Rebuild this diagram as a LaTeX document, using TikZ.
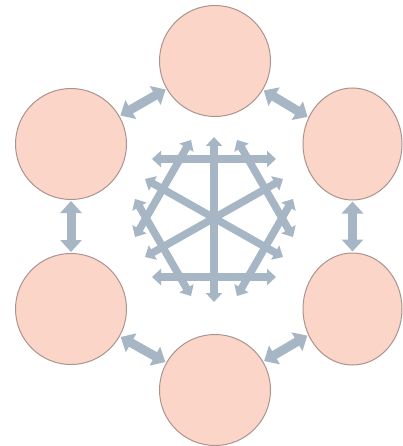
\documentclass[tikz,border=0pt]{standalone}
\usetikzlibrary{arrows.meta,shapes.geometric}
\definecolor{circfill}{HTML}{FBD5C8}
\definecolor{circdraw}{HTML}{AC948E}
\definecolor{arrcol}{HTML}{A6B6C4}
\tikzset{
  bubble/.style={ellipse, fill=circfill, draw=circdraw, line width=1pt, inner sep=0pt, minimum width=111pt, minimum height=111pt},
  rbubble/.style={bubble, minimum width=99pt, minimum height=112pt},
  conn/.style={draw=arrcol, line width=9pt, {Triangle[width=21pt,length=12pt]}-{Triangle[width=21pt,length=12pt]}, shorten <=1pt, shorten >=1pt},
  spoke/.style={draw=arrcol, line width=7.5pt, {Triangle[width=16pt,length=9pt]}-{Triangle[width=16pt,length=9pt]}},
}
\begin{document}
\begin{tikzpicture}[x=1pt,y=-1pt]
\useasboundingbox (0,0) rectangle (403,446);
\fill[white] (0,0) rectangle (403,446);
\node[bubble]  (t)  at (215,61) {};
\node[bubble]  (ul) at (71,144) {};
\node[rbubble] (ur) at (352.5,144) {};
\node[bubble]  (ll) at (71,309) {};
\node[rbubble] (lr) at (352.5,309) {};
\node[bubble]  (b)  at (215,390) {};
\draw[conn] (ul) -- (t);
\draw[conn] (t) -- (ur);
\draw[conn] (ur) -- (lr);
\draw[conn] (lr) -- (b);
\draw[conn] (b) -- (ll);
\draw[conn] (ll) -- (ul);
\coordinate (s) at (214,218);
\begin{scope}[shift={(s)}]
  \coordinate (v0) at (68,0);
  \coordinate (v1) at (34,-59);
  \coordinate (v2) at (-34,-59);
  \coordinate (v3) at (-68,0);
  \coordinate (v4) at (-34,59);
  \coordinate (v5) at (34,59);
  \draw[spoke] (0,-81) -- (0,84);
  \draw[spoke] (-69,-39) -- (69,39);
  \draw[spoke] (-69,39) -- (69,-39);
  \draw[spoke, shorten <=-28pt, shorten >=-28pt] (v2) -- (v1);
  \draw[spoke, shorten <=-28pt, shorten >=-28pt] (v4) -- (v5);
  \draw[spoke, shorten <=-22pt, shorten >=-22pt] (v3) -- (v2);
  \draw[spoke, shorten <=-22pt, shorten >=-22pt] (v3) -- (v4);
  \draw[spoke, shorten <=-22pt, shorten >=-22pt] (v0) -- (v1);
  \draw[spoke, shorten <=-22pt, shorten >=-22pt] (v0) -- (v5);
\end{scope}
\end{tikzpicture}
\end{document}
